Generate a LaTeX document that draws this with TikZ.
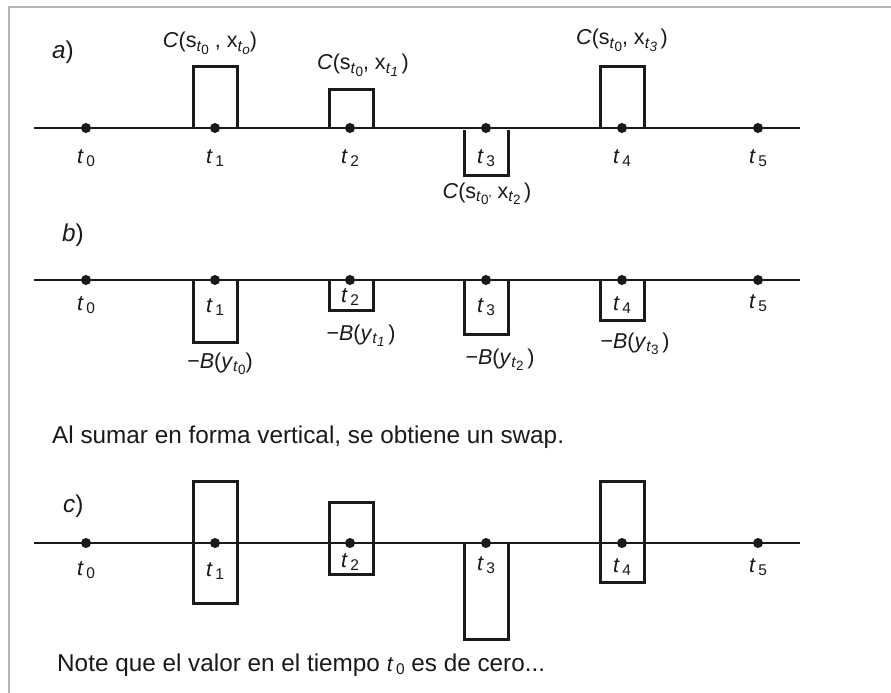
\documentclass[tikz,border=0pt]{standalone}
\usepackage{fontspec}
\setmainfont{Liberation Sans}
\definecolor{ink}{HTML}{1A1A1A}
\definecolor{framegray}{HTML}{B4B4B4}
\newcommand{\sbx}[1]{\raisebox{-0.32ex}{\fontsize{15.5}{15.5}\selectfont #1}}
\newcommand{\ssbx}[1]{\raisebox{-0.35ex}{\fontsize{13.5}{13.5}\selectfont #1}}
\newcommand{\tlab}[1]{\textit{t}\kern2.5pt\sbx{#1}}
\newcommand{\tsub}[1]{\sbx{\textit{t}\ssbx{#1}}}
\begin{document}
\begin{tikzpicture}[x=1pt,y=-1pt,
  axisline/.style={line width=2pt, draw=ink},
  bar/.style={line width=3pt, draw=ink, line join=miter},
  dot/.style={circle, fill=ink, inner sep=0pt, minimum size=10pt},
  lab/.style={anchor=base, inner sep=0pt, text=ink, font=\fontsize{21.5}{25}\selectfont},
  txt/.style={anchor=base west, inner sep=0pt, text=ink, font=\fontsize{24.3}{28}\selectfont},
  framel/.style={line width=2pt, draw=framegray}]
\useasboundingbox (0,0) rectangle (891,693);
\fill[white] (0,0) rectangle (891,693);
\draw[framel] (9,693) -- (9,7) -- (891,7);

% ---------- a) ----------
\coordinate (aL) at (34,128);
\coordinate (aR) at (800,128);
\draw[axisline] (aL) -- (aR);
\draw[bar] (193,128) -- (193,67) -- (237,67) -- (237,128);
\draw[bar] (329,128) -- (329,89) -- (373,89) -- (373,128);
\draw[bar] (464,130) -- (464,175) -- (508,175) -- (508,130);
\draw[bar] (600,128) -- (600,67) -- (644,67) -- (644,128);
\foreach \i/\x in {0/86,1/215,2/350,3/486,4/622,5/758}
  \node[dot] (a\i) at (\x,128) {};
\node[txt] (alab) at (52,59) {\textit{a})};
\node[lab] (ta0) at (86,163) {\tlab{0}};
\node[lab] (ta1) at (215,163) {\tlab{1}};
\node[lab] (ta2) at (350,163) {\tlab{2}};
\node[lab] (ta3) at (486,163) {\tlab{3}};
\node[lab] (ta4) at (622,163) {\tlab{4}};
\node[lab] (ta5) at (758,163) {\tlab{5}};
\node[lab] (ca1) at (210,48) {\textit{C}(s\tsub{0} , x\tsub{\textit{o}})};
\node[lab] (ca2) at (363,70) {\textit{C}(s\tsub{0}, x\tsub{\textit{1}}\,)};
\node[lab] (ca3) at (487,198) {\textit{C}(s\tsub{0'} x\tsub{2}\,)};
\node[lab] (ca4) at (622,45) {\textit{C}(s\tsub{0}, x\tsub{\textit{3}}\,)};

% ---------- b) ----------
\coordinate (bL) at (34,280);
\coordinate (bR) at (800,280);
\draw[axisline] (bL) -- (bR);
\draw[bar] (193,280) -- (193,342) -- (237,342) -- (237,280);
\draw[bar] (329,280) -- (329,310) -- (373,310) -- (373,280);
\draw[bar] (464,280) -- (464,334) -- (508,334) -- (508,280);
\draw[bar] (600,280) -- (600,320) -- (644,320) -- (644,280);
\foreach \i/\x in {0/86,1/215,2/350,3/486,4/622,5/758}
  \node[dot] (b\i) at (\x,280) {};
\node[txt] (blab) at (62,241) {\textit{b})};
\node[lab] (tb0) at (86,310) {\tlab{0}};
\node[lab] (tb1) at (215,312) {\tlab{1}};
\node[lab] (tb2) at (350,302) {\tlab{2}};
\node[lab] (tb3) at (486,312) {\tlab{3}};
\node[lab] (tb4) at (622,310) {\tlab{4}};
\node[lab] (tb5) at (758,308) {\tlab{5}};
\node[lab] (bb1) at (220,368) {−\textit{B}(\textit{y}\tsub{0})};
\node[lab] (bb2) at (361,340) {−\textit{B}(\textit{y}\tsub{\textit{1}}\,)};
\node[lab] (bb3) at (500,364) {−\textit{B}(\textit{y}\tsub{2}\,)};
\node[lab] (bb4) at (635,348) {−\textit{B}(\textit{y}\tsub{3}\,)};

\node[txt] (sumtxt) at (52,443) {Al sumar en forma vertical, se obtiene un swap.};

% ---------- c) ----------
\coordinate (cL) at (34,543);
\coordinate (cR) at (800,543);
\draw[axisline] (cL) -- (cR);
\draw[bar] (193,481) rectangle (237,603);
\draw[bar] (329,502) rectangle (373,574);
\draw[bar] (464,543) -- (464,639) -- (508,639) -- (508,543);
\draw[bar] (600,481) rectangle (644,582);
\foreach \i/\x in {0/86,1/215,2/350,3/486,4/622,5/758}
  \node[dot] (c\i) at (\x,543) {};
\node[txt] (clab) at (63,512) {\textit{c})};
\node[lab] (tc0) at (86,575) {\tlab{0}};
\node[lab] (tc1) at (215,576) {\tlab{1}};
\node[lab] (tc2) at (350,567) {\tlab{2}};
\node[lab] (tc3) at (486,570) {\tlab{3}};
\node[lab] (tc4) at (622,572) {\tlab{4}};
\node[lab] (tc5) at (758,572) {\tlab{5}};

\node[txt] (notetxt) at (57,671) {Note que el valor en el tiempo {\fontsize{21.5}{25}\selectfont\tlab{0}} es de cero...};
\end{tikzpicture}
\end{document}
